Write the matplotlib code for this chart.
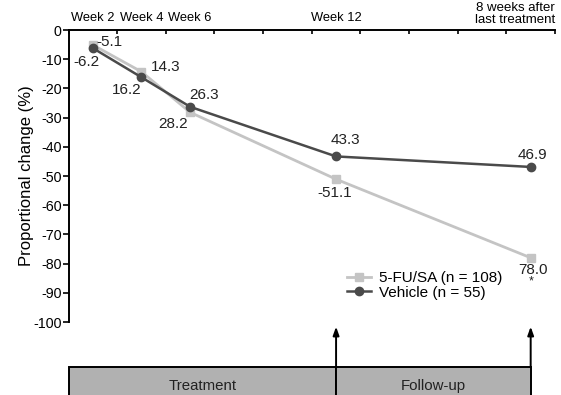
import matplotlib
matplotlib.use("Agg")
import matplotlib.pyplot as plt
from matplotlib.patches import Rectangle

plt.rcParams['font.family'] = ['Liberation Sans', 'DejaVu Sans']
plt.rcParams['axes.unicode_minus'] = False

weeks = [2, 4, 6, 12, 20]
week_labels = ["Week 2", "Week 4", "Week 6", "Week 12"]
fu_sa = [-5.1, -14.3, -28.2, -51.1, -78.0]
vehicle = [-6.2, -16.2, -26.3, -43.3, -46.9]
fu_sa_labels = ["-5.1", "14.3", "28.2", "-51.1", "78.0"]
vehicle_labels = ["-6.2", "16.2", "26.3", "43.3", "46.9"]
fu_sa_name = "5-FU/SA (n = 108)"
vehicle_name = "Vehicle (n = 55)"
phases = ["Treatment", "Follow-up"]
phase_bounds = [1, 12, 20]

light = "#c4c4c4"
dark = "#4a4a4a"

fig = plt.figure(figsize=(5.61, 3.95), dpi=100)
ax = fig.add_axes([68.5/561, 1-322/395, (555-68.5)/561, (322-30)/395])

ax.plot(weeks, fu_sa, color=light, lw=2, marker='s', ms=5.5, mec=light, mfc=light,
        label=fu_sa_name, zorder=3)
ax.plot(weeks, vehicle, color=dark, lw=1.8, marker='o', ms=6, mec=dark, mfc=dark,
        label=vehicle_name, zorder=4)

ax.set_xlim(1, 21)
ax.set_ylim(-100, 0)
ax.set_yticks(range(-100, 1, 10))
ax.tick_params(axis='y', direction='out', length=4, width=1.2, labelsize=10.3, pad=1)

ax.xaxis.tick_top()
ax.set_xticks(range(1, 22, 2))
ax.set_xticklabels([])
ax.set_xticks(weeks[:4], minor=True)
ax.set_xticklabels(week_labels, minor=True, fontsize=9.3)
ax.tick_params(axis='x', which='major', direction='in', length=3, width=1.2)
ax.tick_params(axis='x', which='minor', length=0, pad=4)
ax.text(21, 1.3, "8 weeks after\nlast treatment", ha='right', va='bottom',
        fontsize=9.5, linespacing=1.0, transform=ax.transData)

for s in ['right', 'bottom']:
    ax.spines[s].set_visible(False)
for s in ['left', 'top']:
    ax.spines[s].set_linewidth(1.4)

ax.set_ylabel("Proportional change (%)", fontsize=12)
ax.yaxis.set_label_coords(-0.07, 0.5)

fs = 11
fu_off = [(4, 3, 'left'), (24, 5, 'center'), (-17, -12, 'center'), (-1, -14, 'center'), (2, -12, 'center')]
veh_off = [(-6, -14, 'center'), (-15, -13, 'center'), (14, 12, 'center'), (9, 16, 'center'), (2, 12, 'center')]
for x, y, t, (dx, dy, ha) in zip(weeks, fu_sa, fu_sa_labels, fu_off):
    ax.annotate(t, (x, y), xytext=(dx, dy), textcoords='offset pixels',
                ha=ha, va='center', fontsize=fs, color='#222222')
for x, y, t, (dx, dy, ha) in zip(weeks, vehicle, vehicle_labels, veh_off):
    ax.annotate(t, (x, y), xytext=(dx, dy), textcoords='offset pixels',
                ha=ha, va='center', fontsize=fs, color='#222222')
ax.annotate("*", (weeks[-1], fu_sa[-1]), xytext=(0, -24), textcoords='offset pixels',
            ha='center', va='center', fontsize=9, color='#222222')

leg = ax.legend(loc='upper left', bbox_to_anchor=(0.572, 0.175), frameon=False,
                fontsize=11, handlelength=1.6, handletextpad=0.5, borderpad=0,
                borderaxespad=0, labelspacing=0.05)

# phase bar
bar_top = -115.3
bar_bot = -135
for i, name in enumerate(phases):
    x0, x1 = phase_bounds[i], phase_bounds[i+1]
    r = Rectangle((x0, bar_bot), x1 - x0, bar_top - bar_bot, facecolor='#b1b1b1',
                  edgecolor='black', lw=1.4, clip_on=False, zorder=2)
    ax.add_patch(r)
    ax.text((x0 + x1) / 2, -121.8, name, ha='center', va='center', fontsize=10.8,
            color='#222222', clip_on=False)

for xa in phase_bounds[1:]:
    ax.annotate("", xy=(xa, -101.6), xytext=(xa, bar_top),
                arrowprops=dict(arrowstyle='-|>,head_length=0.5,head_width=0.18',
                                color='black', lw=1.4, shrinkA=0, shrinkB=0),
                annotation_clip=False)

fig.savefig("out.png", dpi=100)
